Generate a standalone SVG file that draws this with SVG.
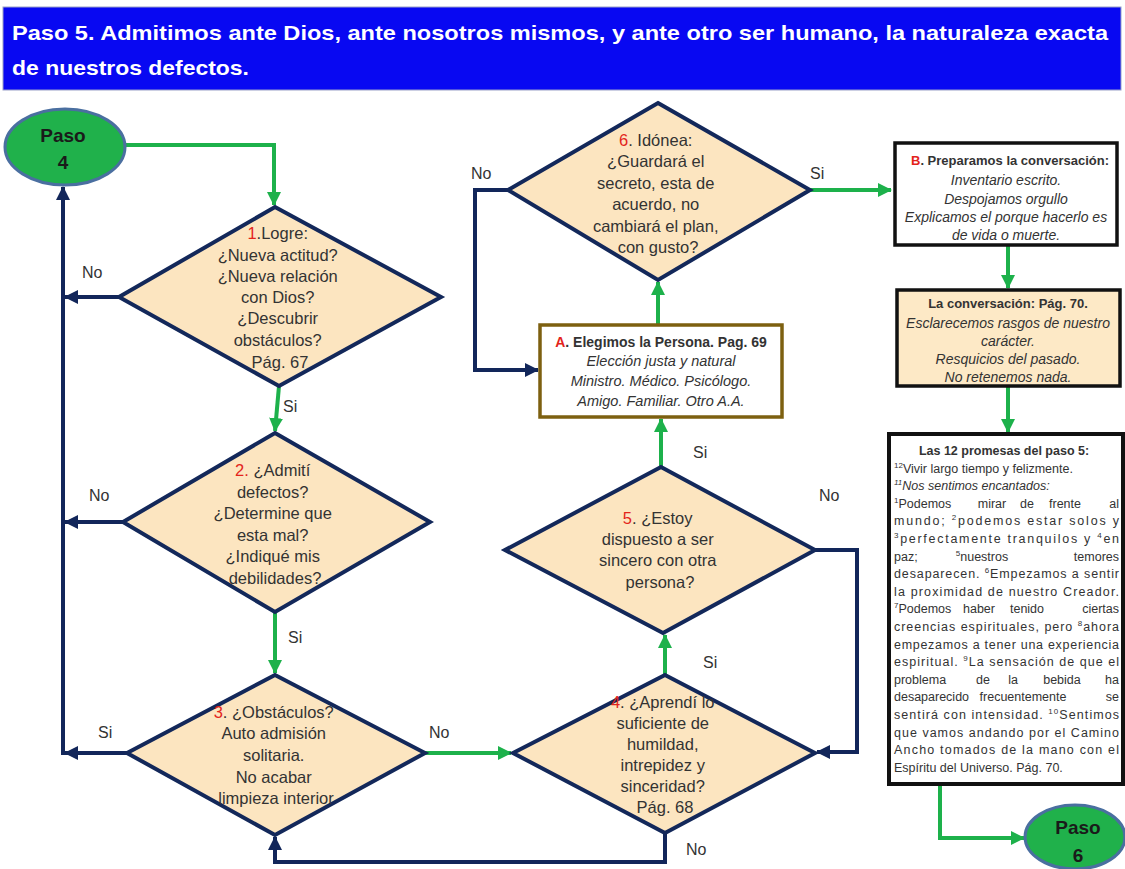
<svg xmlns="http://www.w3.org/2000/svg" width="1125" height="869" viewBox="0 0 1125 869">
<style>
text{font-family:"Liberation Sans",Arial,sans-serif;fill:#333}
.d{font-size:16.5px;text-anchor:middle}
.lbl{font-size:16px}
.red{fill:#e3241b}
.dia{fill:#fce5c0;stroke:#13285a;stroke-width:4;stroke-linejoin:miter}
.g{stroke:#1db14b;stroke-width:4;fill:none}
.n{stroke:#12265a;stroke-width:4;fill:none}
.oval{fill:#20b14b;stroke:#4a6fa0;stroke-width:3}
.ov{font-size:19px;font-weight:bold;fill:#1a1a1a;text-anchor:middle}
.bt{font-weight:bold;text-anchor:middle}
.it{font-style:italic;text-anchor:middle}
.p{font-size:12.5px}
.sup{font-size:8px}
.hd{font-size:21px;font-weight:bold;fill:#fff}
</style>
<defs>
<marker id="ag" markerUnits="userSpaceOnUse" markerWidth="14" markerHeight="14" viewBox="0 0 14 14" refX="13" refY="7" orient="auto"><path d="M0,0 L14,7 L0,14 z" fill="#1db14b"/></marker>
<marker id="an" markerUnits="userSpaceOnUse" markerWidth="14" markerHeight="14" viewBox="0 0 14 14" refX="13" refY="7" orient="auto"><path d="M0,0 L14,7 L0,14 z" fill="#12265a"/></marker>
</defs>
<rect width="1125" height="869" fill="#fff"/>

<g id="header">
<rect x="3" y="7" width="1118" height="83" fill="#0808f2" stroke="#9aa0c8" stroke-width="1"/>
<text class="hd" x="12" y="40" textLength="1096" lengthAdjust="spacingAndGlyphs">Paso 5. Admitimos ante Dios, ante nosotros mismos, y ante otro ser humano, la naturaleza exacta</text>
<text class="hd" x="12" y="75" textLength="237" lengthAdjust="spacingAndGlyphs">de nuestros defectos.</text>
</g>

<g id="connectors">
<path class="g" d="M125,145 H274 V205" marker-end="url(#ag)"/>
<path class="g" d="M279,386 L275,431" marker-end="url(#ag)"/>
<path class="g" d="M275,612 V673" marker-end="url(#ag)"/>
<path class="g" d="M425,753 H511" marker-end="url(#ag)"/>
<path class="g" d="M665,675 V635" marker-end="url(#ag)"/>
<path class="g" d="M661,467 V419" marker-end="url(#ag)"/>
<path class="g" d="M658,325 V282" marker-end="url(#ag)"/>
<path class="g" d="M810,190 H891" marker-end="url(#ag)"/>
<path class="g" d="M1008,245 V288" marker-end="url(#ag)"/>
<path class="g" d="M1008,386 V432" marker-end="url(#ag)"/>
<path class="g" d="M940,785 V838 H1024" marker-end="url(#ag)"/>

<path class="n" d="M119,297 H65" marker-end="url(#an)"/>
<path class="n" d="M123,522 H65" marker-end="url(#an)"/>
<path class="n" d="M127,753 H65" marker-end="url(#an)"/>
<path class="n" d="M63,755 V187" marker-end="url(#an)"/>
<path class="n" d="M665,833 V862 H275 V837" marker-end="url(#an)"/>
<path class="n" d="M815,550 H857 V752 H817" marker-end="url(#an)"/>
<path class="n" d="M508,190 H475 V370 H538" marker-end="url(#an)"/>

<text class="lbl" x="82" y="278">No</text>
<text class="lbl" x="283" y="412">Si</text>
<text class="lbl" x="89" y="501">No</text>
<text class="lbl" x="288" y="643">Si</text>
<text class="lbl" x="98" y="738">Si</text>
<text class="lbl" x="429" y="738">No</text>
<text class="lbl" x="686" y="855">No</text>
<text class="lbl" x="703" y="668">Si</text>
<text class="lbl" x="693" y="458">Si</text>
<text class="lbl" x="819" y="501">No</text>
<text class="lbl" x="471" y="179">No</text>
<text class="lbl" x="810" y="179">Si</text>
</g>

<g id="paso4">
<ellipse class="oval" cx="65" cy="147" rx="60" ry="38"/>
<text class="ov" x="63" y="142">Paso</text>
<text class="ov" x="63" y="169">4</text>
</g>

<g id="d1">
<polygon class="dia" points="275,207 441,297 279,386 119,297"/>
<text class="d">
<tspan x="280" y="239"><tspan class="red">1</tspan>.Logre:</tspan>
<tspan x="280" y="261">¿Nueva actitud?</tspan>
<tspan x="280" y="282">¿Nueva relación</tspan>
<tspan x="280" y="303">con Dios?</tspan>
<tspan x="280" y="324">¿Descubrir</tspan>
<tspan x="280" y="346">obstáculos?</tspan>
<tspan x="280" y="368">Pág. 67</tspan>
</text>
</g>

<g id="d2">
<polygon class="dia" points="275,433 430,522 275,612 123,522"/>
<text class="d">
<tspan x="275" y="476"><tspan class="red">2.</tspan> ¿Admití</tspan>
<tspan x="275" y="497.5">defectos?</tspan>
<tspan x="275" y="519">¿Determine que</tspan>
<tspan x="275" y="540.5">esta mal?</tspan>
<tspan x="275" y="562">¿Indiqué mis</tspan>
<tspan x="275" y="583.5">debilidades?</tspan>
</text>
</g>

<g id="d3">
<polygon class="dia" points="275,675 425,753 275,835 127,753"/>
<text class="d">
<tspan x="276" y="718"><tspan class="red">3</tspan>. ¿Obstáculos?</tspan>
<tspan x="276" y="739">Auto admisión</tspan>
<tspan x="276" y="761">solitaria.</tspan>
<tspan x="276" y="783">No acabar</tspan>
<tspan x="276" y="804">limpieza interior</tspan>
</text>
</g>

<g id="d4">
<polygon class="dia" points="665,675 815,753 665,833 513,753"/>
<text class="d">
<tspan x="665" y="708"><tspan class="red">4</tspan>. ¿Aprendí lo</tspan>
<tspan x="665" y="729">suficiente de</tspan>
<tspan x="665" y="750">humildad,</tspan>
<tspan x="665" y="771">intrepidez y</tspan>
<tspan x="665" y="792">sinceridad?</tspan>
<tspan x="665" y="813">Pág. 68</tspan>
</text>
</g>

<g id="d5">
<polygon class="dia" points="661,467 815,550 663,633 505,550"/>
<text class="d">
<tspan x="660" y="524"><tspan class="red">5</tspan>. ¿Estoy</tspan>
<tspan x="660" y="545">dispuesto a ser</tspan>
<tspan x="660" y="566">sincero con otra</tspan>
<tspan x="660" y="588">persona?</tspan>
</text>
</g>

<g id="boxA">
<rect x="540" y="325" width="242" height="92" fill="#fff" stroke="#7d6010" stroke-width="3.5"/>
<text class="bt" x="661" y="347" font-size="14"><tspan class="red">A</tspan>. Elegimos  la Persona. Pag. 69</text>
<text class="it" x="661" y="366" font-size="14.5">Elección justa y natural</text>
<text class="it" x="661" y="386" font-size="14.5">Ministro. Médico. Psicólogo.</text>
<text class="it" x="661" y="406" font-size="14.5">Amigo. Familiar. Otro A.A.</text>
</g>

<g id="d6">
<polygon class="dia" points="658,103 810,190 658,280 508,190"/>
<text class="d">
<tspan x="658" y="146"><tspan class="red">6</tspan>. Idónea:</tspan>
<tspan x="658" y="167">¿Guardará el</tspan>
<tspan x="658" y="189">secreto, esta de</tspan>
<tspan x="658" y="210">acuerdo, no</tspan>
<tspan x="658" y="232">cambiará el plan,</tspan>
<tspan x="658" y="253">con gusto?</tspan>
</text>
</g>

<g id="boxB">
<rect x="895" y="143" width="222" height="102" fill="#fff" stroke="#111" stroke-width="3.5"/>
<text class="bt" x="1010" y="165" font-size="13"><tspan class="red">B</tspan>. Preparamos  la conversación:</text>
<text class="it" x="1006" y="185" font-size="14">Inventario escrito.</text>
<text class="it" x="1006" y="204" font-size="14">Despojamos orgullo</text>
<text class="it" x="1006" y="222" font-size="14">Explicamos el porque hacerlo es</text>
<text class="it" x="1006" y="240" font-size="14">de vida  o muerte.</text>
</g>

<g id="conversacion">
<rect x="897" y="290" width="223" height="96" fill="#fde9c6" stroke="#111" stroke-width="3.5"/>
<text class="bt" x="1008" y="308" font-size="13">La conversación: Pág. 70.</text>
<text class="it" x="1008" y="328" font-size="14">Esclarecemos rasgos de nuestro</text>
<text class="it" x="1008" y="346" font-size="14">carácter.</text>
<text class="it" x="1008" y="364" font-size="14">Resquicios del pasado.</text>
<text class="it" x="1008" y="382" font-size="14">No retenemos nada.</text>
</g>

<g id="promesas">
<rect x="889" y="434" width="234" height="350" fill="#fff" stroke="#111" stroke-width="4"/>
<text class="bt" x="1004" y="455" font-size="12.5">Las 12 promesas del paso 5:</text>
<text class="p" x="894" y="472.6"><tspan class="sup" dy="-5">12</tspan><tspan dy="5">Vivir largo tiempo y felizmente.</tspan></text>
<text class="p" x="894" y="490.2" font-style="italic"><tspan class="sup" dy="-5">11</tspan><tspan dy="5">Nos sentimos encantados:</tspan></text>
<text class="p" x="894" y="507.8"><tspan class="sup" dy="-5">1</tspan><tspan dy="5">Podemos</tspan></text>
<text class="p" x="992" y="507.8" text-anchor="middle">mirar</text>
<text class="p" x="1027" y="507.8" text-anchor="middle">de</text>
<text class="p" x="1065" y="507.8" text-anchor="middle">frente</text>
<text class="p" x="1119" y="507.8" text-anchor="end">al</text>
<text class="p" x="894" y="525.4" textLength="225" lengthAdjust="spacing">mundo; <tspan class="sup" dy="-5">2</tspan><tspan dy="5">podemos estar solos y</tspan></text>
<text class="p" x="894" y="543" textLength="225" lengthAdjust="spacing"><tspan class="sup" dy="-5">3</tspan><tspan dy="5">perfectamente tranquilos y </tspan><tspan class="sup" dy="-5">4</tspan><tspan dy="5">en</tspan></text>
<text class="p" x="894" y="560.6">paz;</text>
<text class="p" x="982" y="560.6" text-anchor="middle"><tspan class="sup" dy="-5">5</tspan><tspan dy="5">nuestros</tspan></text>
<text class="p" x="1119" y="560.6" text-anchor="end">temores</text>
<text class="p" x="894" y="578.2" textLength="225" lengthAdjust="spacing">desaparecen. <tspan class="sup" dy="-5">6</tspan><tspan dy="5">Empezamos a sentir</tspan></text>
<text class="p" x="894" y="595.8" textLength="225" lengthAdjust="spacing">la proximidad de nuestro Creador.</text>
<text class="p" x="894" y="613.4"><tspan class="sup" dy="-5">7</tspan><tspan dy="5">Podemos</tspan></text>
<text class="p" x="979" y="613.4" text-anchor="middle">haber</text>
<text class="p" x="1027" y="613.4" text-anchor="middle">tenido</text>
<text class="p" x="1119" y="613.4" text-anchor="end">ciertas</text>
<text class="p" x="894" y="631" textLength="225" lengthAdjust="spacing">creencias espirituales, pero <tspan class="sup" dy="-5">8</tspan><tspan dy="5">ahora</tspan></text>
<text class="p" x="894" y="648.6" textLength="225" lengthAdjust="spacing">empezamos a tener una experiencia</text>
<text class="p" x="894" y="666.2" textLength="225" lengthAdjust="spacing">espiritual. <tspan class="sup" dy="-5">9</tspan><tspan dy="5">La sensación de que el</tspan></text>
<text class="p" x="894" y="683.8">problema</text>
<text class="p" x="983" y="683.8" text-anchor="middle">de</text>
<text class="p" x="1013" y="683.8" text-anchor="middle">la</text>
<text class="p" x="1062" y="683.8" text-anchor="middle">bebida</text>
<text class="p" x="1119" y="683.8" text-anchor="end">ha</text>
<text class="p" x="894" y="701.4">desaparecido</text>
<text class="p" x="1023" y="701.4" text-anchor="middle">frecuentemente</text>
<text class="p" x="1119" y="701.4" text-anchor="end">se</text>
<text class="p" x="894" y="719" textLength="225" lengthAdjust="spacing">sentirá con intensidad. <tspan class="sup" dy="-5">10</tspan><tspan dy="5">Sentimos</tspan></text>
<text class="p" x="894" y="736.6" textLength="225" lengthAdjust="spacing">que vamos andando por el Camino</text>
<text class="p" x="894" y="754.2" textLength="225" lengthAdjust="spacing">Ancho tomados de la mano con el</text>
<text class="p" x="894" y="771.8">Espíritu del Universo. Pág. 70.</text>
</g>

<g id="paso6">
<ellipse class="oval" cx="1075" cy="837" rx="50" ry="32"/>
<text class="ov" x="1078" y="834">Paso</text>
<text class="ov" x="1078" y="862">6</text>
</g>
</svg>
